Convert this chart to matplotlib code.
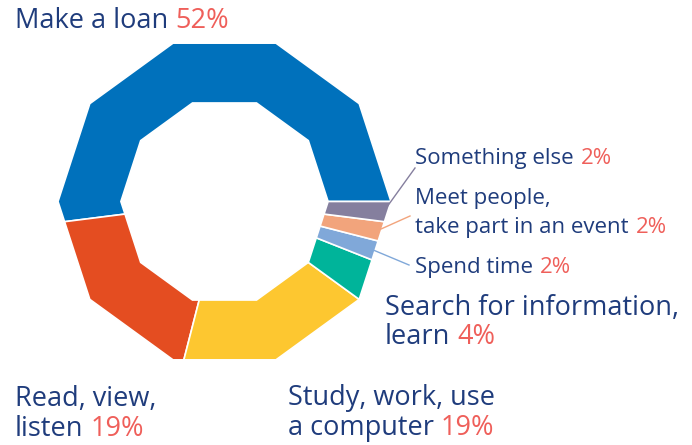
import numpy as np
import matplotlib.pyplot as plt

# data
labels = ["Make a loan", "Read, view,\nlisten", "Study, work, use\na computer",
          "Search for information,\nlearn", "Spend time",
          "Meet people,\ntake part in an event", "Something else"]
shares = [52, 19, 19, 4, 2, 2, 2]
colors = ["#0071BC", "#E44D21", "#FDC730", "#00B49A", "#80A8D9", "#F2A47C", "#857F9E"]

TEXT = "#1F3C7C"
PCT = "#EF5F5A"
plt.rcParams['font.family'] = ['Open Sans', 'DejaVu Sans']

cx, cy = 224.5, 201.5
R_OUT, R_IN = 166.5, 103.6
NSIDES = 10


def poly_r(theta, r):
    # radius of a regular decagon (vertex at angle 0) along direction theta (deg)
    step = 360 / NSIDES
    t = np.mod(theta, step) - step / 2
    return r * np.cos(np.radians(step / 2)) / np.cos(np.radians(t))


def ring_points(a0, a1, r):
    step = 360 / NSIDES
    angs = [a0] + [a for a in np.arange(0, 361, step) if a0 < a < a1] + [a1]
    angs = np.array(angs)
    rr = poly_r(angs, r)
    return cx + rr * np.cos(np.radians(angs)), cy - rr * np.sin(np.radians(angs))


fig = plt.figure(figsize=(6.92, 4.45), dpi=100)
ax = fig.add_axes([0, 0, 1, 1])
ax.set_xlim(0, 692)
ax.set_ylim(445, 0)
ax.axis('off')

bounds = np.concatenate([[0], np.cumsum(shares)]) / 100 * 360
mids = []
for i, (s, c) in enumerate(zip(shares, colors)):
    a0, a1 = bounds[i], bounds[i + 1]
    xo, yo = ring_points(a0, a1, R_OUT)
    xi, yi = ring_points(a0, a1, R_IN)
    ax.fill(np.concatenate([xo, xi[::-1]]), np.concatenate([yo, yi[::-1]]),
            facecolor=c, edgecolor='white', linewidth=1.2, joinstyle='miter')
    mids.append((a0 + a1) / 2)


def label(x, y, text, pct, size, gap):
    t = None
    for k, line in enumerate(text.split("\n")):
        t = ax.text(x, y + k * gap, line, color=TEXT, fontsize=size,
                    ha='left', va='baseline')
    ax.annotate(pct, xy=(1, 0), xycoords=t, xytext=(5, 0), textcoords='offset points',
                color=PCT, fontsize=size, ha='left', va='bottom')


big, small = 19.5, 16
label(15, 28, labels[0], "52%", big, 30)
label(15, 406, labels[1], "19%", big, 30)
label(288, 405, labels[2], "19%", big, 30)
label(385, 315, labels[3], "4%", big, 29)
label(415, 273, labels[4], "2%", small, 29)
label(415, 204, labels[5], "2%", small, 29)
label(415, 164, labels[6], "2%", small, 29)

# leader lines for the thin slices
ends = {4: (409, 265), 5: (410, 216), 6: (415, 168)}
for i, (ex, ey) in ends.items():
    a = mids[i]
    r = poly_r(a, R_OUT) - 4
    sx, sy = cx + r * np.cos(np.radians(a)), cy - r * np.sin(np.radians(a))
    ax.plot([sx, ex], [sy, ey], color=colors[i], linewidth=1)

fig.savefig("out.png", dpi=100)
